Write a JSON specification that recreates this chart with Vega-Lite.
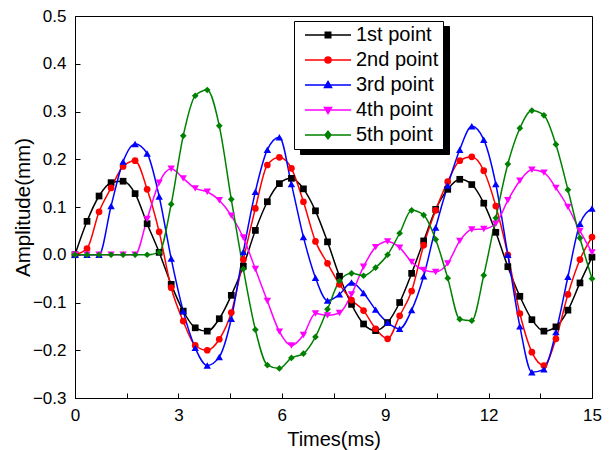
{
  "$schema": "https://vega.github.io/schema/vega-lite/v6.json",
  "width": 517,
  "height": 382,
  "autosize": "none",
  "padding": {"left": 75, "top": 16, "right": 22, "bottom": 52},
  "background": "white",
  "config": {
    "font": "Liberation Sans",
    "view": {"stroke": "#000000", "strokeWidth": 1},
    "axis": {
      "domainColor": "#000000", "tickColor": "#000000", "labelColor": "#000000", "titleColor": "#000000",
      "labelFont": "Liberation Sans", "titleFont": "Liberation Sans",
      "labelFontSize": 17, "titleFontSize": 20, "titleFontWeight": "normal",
      "grid": false, "domainWidth": 1, "tickWidth": 1, "labelFlush": false, "labelOverlap": false
    }
  },
  "data": {"values": [
    {"s":"1st point","t":0,"a":0},{"s":"1st point","t":0.349,"a":0.07},{"s":"1st point","t":0.698,"a":0.123},{"s":"1st point","t":1.047,"a":0.151},{"s":"1st point","t":1.395,"a":0.154},{"s":"1st point","t":1.744,"a":0.128},{"s":"1st point","t":2.093,"a":0.065},{"s":"1st point","t":2.442,"a":0.005},{"s":"1st point","t":2.791,"a":-0.062},{"s":"1st point","t":3.14,"a":-0.118},{"s":"1st point","t":3.488,"a":-0.153},{"s":"1st point","t":3.837,"a":-0.16},{"s":"1st point","t":4.186,"a":-0.134},{"s":"1st point","t":4.535,"a":-0.085},{"s":"1st point","t":4.884,"a":-0.024},{"s":"1st point","t":5.233,"a":0.051},{"s":"1st point","t":5.581,"a":0.111},{"s":"1st point","t":5.93,"a":0.149},{"s":"1st point","t":6.279,"a":0.16},{"s":"1st point","t":6.628,"a":0.138},{"s":"1st point","t":6.977,"a":0.092},{"s":"1st point","t":7.326,"a":0.027},{"s":"1st point","t":7.674,"a":-0.045},{"s":"1st point","t":8.023,"a":-0.104},{"s":"1st point","t":8.372,"a":-0.145},{"s":"1st point","t":8.721,"a":-0.159},{"s":"1st point","t":9.07,"a":-0.142},{"s":"1st point","t":9.419,"a":-0.1},{"s":"1st point","t":9.767,"a":-0.039},{"s":"1st point","t":10.116,"a":0.029},{"s":"1st point","t":10.465,"a":0.095},{"s":"1st point","t":10.814,"a":0.137},{"s":"1st point","t":11.163,"a":0.158},{"s":"1st point","t":11.512,"a":0.147},{"s":"1st point","t":11.86,"a":0.108},{"s":"1st point","t":12.209,"a":0.047},{"s":"1st point","t":12.558,"a":-0.025},{"s":"1st point","t":12.907,"a":-0.087},{"s":"1st point","t":13.256,"a":-0.136},{"s":"1st point","t":13.605,"a":-0.16},{"s":"1st point","t":13.953,"a":-0.151},{"s":"1st point","t":14.302,"a":-0.116},{"s":"1st point","t":14.651,"a":-0.059},{"s":"1st point","t":15,"a":-0.005},
    {"s":"2nd point","t":0,"a":0},{"s":"2nd point","t":0.349,"a":0.013},{"s":"2nd point","t":0.698,"a":0.09},{"s":"2nd point","t":1.047,"a":0.14},{"s":"2nd point","t":1.395,"a":0.185},{"s":"2nd point","t":1.744,"a":0.197},{"s":"2nd point","t":2.093,"a":0.137},{"s":"2nd point","t":2.442,"a":0.048},{"s":"2nd point","t":2.791,"a":-0.069},{"s":"2nd point","t":3.14,"a":-0.139},{"s":"2nd point","t":3.488,"a":-0.19},{"s":"2nd point","t":3.837,"a":-0.2},{"s":"2nd point","t":4.186,"a":-0.177},{"s":"2nd point","t":4.535,"a":-0.121},{"s":"2nd point","t":4.884,"a":-0.01},{"s":"2nd point","t":5.233,"a":0.097},{"s":"2nd point","t":5.581,"a":0.188},{"s":"2nd point","t":5.93,"a":0.204},{"s":"2nd point","t":6.279,"a":0.181},{"s":"2nd point","t":6.628,"a":0.111},{"s":"2nd point","t":6.977,"a":0.028},{"s":"2nd point","t":7.326,"a":-0.018},{"s":"2nd point","t":7.674,"a":-0.062},{"s":"2nd point","t":8.023,"a":-0.095},{"s":"2nd point","t":8.372,"a":-0.117},{"s":"2nd point","t":8.721,"a":-0.155},{"s":"2nd point","t":9.07,"a":-0.176},{"s":"2nd point","t":9.419,"a":-0.128},{"s":"2nd point","t":9.767,"a":-0.076},{"s":"2nd point","t":10.116,"a":0.02},{"s":"2nd point","t":10.465,"a":0.093},{"s":"2nd point","t":10.814,"a":0.153},{"s":"2nd point","t":11.163,"a":0.197},{"s":"2nd point","t":11.512,"a":0.205},{"s":"2nd point","t":11.86,"a":0.176},{"s":"2nd point","t":12.209,"a":0.102},{"s":"2nd point","t":12.558,"a":0},{"s":"2nd point","t":12.907,"a":-0.123},{"s":"2nd point","t":13.256,"a":-0.204},{"s":"2nd point","t":13.605,"a":-0.232},{"s":"2nd point","t":13.953,"a":-0.176},{"s":"2nd point","t":14.302,"a":-0.083},{"s":"2nd point","t":14.651,"a":-0.01},{"s":"2nd point","t":15,"a":0.037},
    {"s":"3rd point","t":0,"a":0},{"s":"3rd point","t":0.349,"a":0},{"s":"3rd point","t":0.698,"a":0},{"s":"3rd point","t":1.047,"a":0.102},{"s":"3rd point","t":1.395,"a":0.195},{"s":"3rd point","t":1.744,"a":0.232},{"s":"3rd point","t":2.093,"a":0.212},{"s":"3rd point","t":2.442,"a":0.122},{"s":"3rd point","t":2.791,"a":-0.008},{"s":"3rd point","t":3.14,"a":-0.118},{"s":"3rd point","t":3.488,"a":-0.195},{"s":"3rd point","t":3.837,"a":-0.232},{"s":"3rd point","t":4.186,"a":-0.214},{"s":"3rd point","t":4.535,"a":-0.134},{"s":"3rd point","t":4.884,"a":0.006},{"s":"3rd point","t":5.233,"a":0.132},{"s":"3rd point","t":5.581,"a":0.22},{"s":"3rd point","t":5.93,"a":0.246},{"s":"3rd point","t":6.279,"a":0.148},{"s":"3rd point","t":6.628,"a":0.037},{"s":"3rd point","t":6.977,"a":-0.048},{"s":"3rd point","t":7.326,"a":-0.096},{"s":"3rd point","t":7.674,"a":-0.083},{"s":"3rd point","t":8.023,"a":-0.058},{"s":"3rd point","t":8.372,"a":-0.08},{"s":"3rd point","t":8.721,"a":-0.115},{"s":"3rd point","t":9.07,"a":-0.142},{"s":"3rd point","t":9.419,"a":-0.155},{"s":"3rd point","t":9.767,"a":-0.116},{"s":"3rd point","t":10.116,"a":-0.045},{"s":"3rd point","t":10.465,"a":0.057},{"s":"3rd point","t":10.814,"a":0.145},{"s":"3rd point","t":11.163,"a":0.22},{"s":"3rd point","t":11.512,"a":0.269},{"s":"3rd point","t":11.86,"a":0.241},{"s":"3rd point","t":12.209,"a":0.148},{"s":"3rd point","t":12.558,"a":0},{"s":"3rd point","t":12.907,"a":-0.15},{"s":"3rd point","t":13.256,"a":-0.246},{"s":"3rd point","t":13.605,"a":-0.24},{"s":"3rd point","t":13.953,"a":-0.162},{"s":"3rd point","t":14.302,"a":-0.046},{"s":"3rd point","t":14.651,"a":0.065},{"s":"3rd point","t":15,"a":0.097},
    {"s":"4th point","t":0,"a":0},{"s":"4th point","t":0.349,"a":0},{"s":"4th point","t":0.698,"a":0},{"s":"4th point","t":1.047,"a":0},{"s":"4th point","t":1.395,"a":0},{"s":"4th point","t":1.744,"a":0},{"s":"4th point","t":2.093,"a":0.075},{"s":"4th point","t":2.442,"a":0.151},{"s":"4th point","t":2.791,"a":0.18},{"s":"4th point","t":3.14,"a":0.16},{"s":"4th point","t":3.488,"a":0.139},{"s":"4th point","t":3.837,"a":0.132},{"s":"4th point","t":4.186,"a":0.114},{"s":"4th point","t":4.535,"a":0.082},{"s":"4th point","t":4.884,"a":0.036},{"s":"4th point","t":5.233,"a":-0.03},{"s":"4th point","t":5.581,"a":-0.097},{"s":"4th point","t":5.93,"a":-0.161},{"s":"4th point","t":6.279,"a":-0.19},{"s":"4th point","t":6.628,"a":-0.168},{"s":"4th point","t":6.977,"a":-0.123},{"s":"4th point","t":7.326,"a":-0.127},{"s":"4th point","t":7.674,"a":-0.122},{"s":"4th point","t":8.023,"a":-0.083},{"s":"4th point","t":8.372,"a":-0.025},{"s":"4th point","t":8.721,"a":0.016},{"s":"4th point","t":9.07,"a":0.028},{"s":"4th point","t":9.419,"a":0.015},{"s":"4th point","t":9.767,"a":-0.015},{"s":"4th point","t":10.116,"a":-0.032},{"s":"4th point","t":10.465,"a":-0.036},{"s":"4th point","t":10.814,"a":-0.018},{"s":"4th point","t":11.163,"a":0.029},{"s":"4th point","t":11.512,"a":0.053},{"s":"4th point","t":11.86,"a":0.054},{"s":"4th point","t":12.209,"a":0.065},{"s":"4th point","t":12.558,"a":0.114},{"s":"4th point","t":12.907,"a":0.155},{"s":"4th point","t":13.256,"a":0.178},{"s":"4th point","t":13.605,"a":0.172},{"s":"4th point","t":13.953,"a":0.14},{"s":"4th point","t":14.302,"a":0.1},{"s":"4th point","t":14.651,"a":0.05},{"s":"4th point","t":15,"a":0.005},
    {"s":"5th point","t":0,"a":0},{"s":"5th point","t":0.349,"a":0},{"s":"5th point","t":0.698,"a":0},{"s":"5th point","t":1.047,"a":0},{"s":"5th point","t":1.395,"a":0},{"s":"5th point","t":1.744,"a":0},{"s":"5th point","t":2.093,"a":0},{"s":"5th point","t":2.442,"a":0.005},{"s":"5th point","t":2.791,"a":0.106},{"s":"5th point","t":3.14,"a":0.249},{"s":"5th point","t":3.488,"a":0.333},{"s":"5th point","t":3.837,"a":0.345},{"s":"5th point","t":4.186,"a":0.27},{"s":"5th point","t":4.535,"a":0.116},{"s":"5th point","t":4.884,"a":-0.03},{"s":"5th point","t":5.233,"a":-0.157},{"s":"5th point","t":5.581,"a":-0.231},{"s":"5th point","t":5.93,"a":-0.238},{"s":"5th point","t":6.279,"a":-0.216},{"s":"5th point","t":6.628,"a":-0.207},{"s":"5th point","t":6.977,"a":-0.172},{"s":"5th point","t":7.326,"a":-0.114},{"s":"5th point","t":7.674,"a":-0.055},{"s":"5th point","t":8.023,"a":-0.039},{"s":"5th point","t":8.372,"a":-0.044},{"s":"5th point","t":8.721,"a":-0.027},{"s":"5th point","t":9.07,"a":0},{"s":"5th point","t":9.419,"a":0.045},{"s":"5th point","t":9.767,"a":0.093},{"s":"5th point","t":10.116,"a":0.083},{"s":"5th point","t":10.465,"a":0.032},{"s":"5th point","t":10.814,"a":-0.049},{"s":"5th point","t":11.163,"a":-0.135},{"s":"5th point","t":11.512,"a":-0.138},{"s":"5th point","t":11.86,"a":-0.043},{"s":"5th point","t":12.209,"a":0.077},{"s":"5th point","t":12.558,"a":0.19},{"s":"5th point","t":12.907,"a":0.265},{"s":"5th point","t":13.256,"a":0.302},{"s":"5th point","t":13.605,"a":0.292},{"s":"5th point","t":13.953,"a":0.231},{"s":"5th point","t":14.302,"a":0.136},{"s":"5th point","t":14.651,"a":0.035},{"s":"5th point","t":15,"a":-0.05}
  ]},
  "layer": [
    {
      "mark": {"type": "line", "interpolate": "monotone", "strokeWidth": 1.5},
      "encoding": {
        "x": {"field": "t", "type": "quantitative", "scale": {"domain": [0, 15], "nice": false, "zero": false},
          "axis": {"values": [0, 1.5, 3, 4.5, 6, 7.5, 9, 10.5, 12, 13.5, 15], "labelExpr": "datum.value % 3 ? '' : datum.label",
            "tickSize": -5, "labelPadding": 14, "title": "Times(ms)", "titlePadding": 6}},
        "y": {"field": "a", "type": "quantitative", "scale": {"domain": [-0.3, 0.5], "nice": false, "zero": false},
          "axis": {"values": [-0.3, -0.25, -0.2, -0.15, -0.1, -0.05, 0, 0.05, 0.1, 0.15, 0.2, 0.25, 0.3, 0.35, 0.4, 0.45, 0.5],
            "format": ".1f", "labelExpr": "round(datum.value*20) % 2 ? '' : datum.label",
            "grid": true, "gridColor": "#d0d0d0", "gridWidth": 1,
            "gridOpacity": {"condition": {"test": "round(datum.value*20) % 2 != 0", "value": 1}, "value": 0},
            "tickSize": -5, "labelPadding": 14, "title": "Amplitude(mm)", "titleFontSize": 20.5, "titlePadding": -1}},
        "color": {"field": "s", "type": "nominal",
          "scale": {"domain": ["1st point", "2nd point", "3rd point", "4th point", "5th point"], "range": ["#000000", "#ff0000", "#0000ff", "#ff00ff", "#008000"]}}
      }
    },
    {
      "transform": [{"filter": "datum.s === '1st point'"}],
      "mark": {"type": "point", "shape": "square", "filled": true, "size": 45, "opacity": 1},
      "encoding": {"x": {"field": "t", "type": "quantitative"}, "y": {"field": "a", "type": "quantitative"}, "color": {"field": "s", "type": "nominal"}}
    },
    {
      "transform": [{"filter": "datum.s === '2nd point'"}],
      "mark": {"type": "point", "shape": "circle", "filled": true, "size": 45, "opacity": 1},
      "encoding": {"x": {"field": "t", "type": "quantitative"}, "y": {"field": "a", "type": "quantitative"}, "color": {"field": "s", "type": "nominal"}}
    },
    {
      "transform": [{"filter": "datum.s === '3rd point'"}],
      "mark": {"type": "point", "shape": "triangle-up", "filled": true, "size": 55, "opacity": 1},
      "encoding": {"x": {"field": "t", "type": "quantitative"}, "y": {"field": "a", "type": "quantitative"}, "color": {"field": "s", "type": "nominal"}}
    },
    {
      "transform": [{"filter": "datum.s === '4th point'"}],
      "mark": {"type": "point", "shape": "triangle-down", "filled": true, "size": 55, "opacity": 1},
      "encoding": {"x": {"field": "t", "type": "quantitative"}, "y": {"field": "a", "type": "quantitative"}, "color": {"field": "s", "type": "nominal"}}
    },
    {
      "transform": [{"filter": "datum.s === '5th point'"}],
      "mark": {"type": "point", "shape": "diamond", "filled": true, "size": 45, "opacity": 1},
      "encoding": {"x": {"field": "t", "type": "quantitative"}, "y": {"field": "a", "type": "quantitative"}, "color": {"field": "s", "type": "nominal"}}
    },
    {
      "mark": {"type": "point", "filled": true, "opacity": 0},
      "encoding": {
        "x": {"field": "t", "type": "quantitative"},
        "y": {"field": "a", "type": "quantitative"},
        "color": {"field": "s", "type": "nominal"},
        "shape": {"field": "s", "type": "nominal",
          "scale": {"domain": ["1st point", "2nd point", "3rd point", "4th point", "5th point"],
            "range": ["M-4.6,0H4.6M-0.55,-0.55H0.55V0.55H-0.55Z", "M-4.6,0H4.6M-0.6,0A0.6,0.6,0,1,0,0.6,0A0.6,0.6,0,1,0,-0.6,0Z", "M-4.6,0H4.6M0,-0.7L0.7,0.5L-0.7,0.5Z", "M-4.6,0H4.6M0,0.7L0.7,-0.5L-0.7,-0.5Z", "M-4.6,0H4.6M0,-0.75L0.6,0L0,0.75L-0.6,0Z"]},
          "legend": {"orient": "none", "legendX": 219, "legendY": 5, "title": null, "zindex": 2,
            "fillColor": "white", "strokeColor": "black", "padding": 4, "rowPadding": 5,
            "symbolSize": 100, "symbolStrokeWidth": 1.5, "symbolOpacity": 1, "symbolOffset": 20, "labelOffset": 18,
            "labelFont": "Liberation Sans", "labelFontSize": 20, "labelColor": "black", "labelLimit": 300}}
      }
    },
    {
      "mark": {"type": "point", "filled": true},
      "encoding": {
        "x": {"field": "t", "type": "quantitative"},
        "y": {"field": "a", "type": "quantitative"},
        "opacity": {"field": "a", "type": "quantitative", "scale": {"range": [0, 0]},
          "legend": {"orient": "none", "legendX": 225, "legendY": 10, "title": null, "zindex": 1,
            "values": [-0.2, -0.1, 0, 0.1, 0.2], "labelExpr": "'2nd point'",
            "fillColor": "black", "strokeColor": "black", "padding": 4, "rowPadding": 5,
            "symbolSize": 100, "symbolOffset": 20, "symbolFillColor": "black", "symbolStrokeColor": "black", "labelOffset": 18,
            "labelFont": "Liberation Sans", "labelFontSize": 20, "labelColor": "black", "labelLimit": 300}}
      }
    }
  ]
}
